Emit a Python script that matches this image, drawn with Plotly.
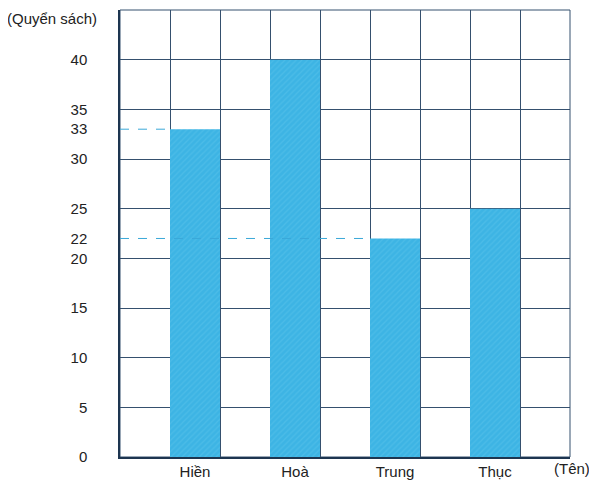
import plotly.graph_objects as go

names = ["Hiền", "Hoà", "Trung", "Thục"]
books = [33, 40, 22, 25]
x_pos = [1.5, 3.5, 5.5, 7.5]
y_ticks = [0, 5, 10, 15, 20, 22, 25, 30, 33, 35, 40]
dashed = [(33, 1), (22, 5)]  # (value, bar left edge)

fig = go.Figure()
fig.add_trace(go.Bar(
    x=x_pos, y=books, width=1,
    marker=dict(color="#3db4e4", line=dict(width=0),
                pattern=dict(shape="/", fgcolor="#5cc3ea", size=4, solidity=0.3)),
))

for val, edge in dashed:
    fig.add_shape(type="line", x0=0, x1=edge, y0=val, y1=val,
                  line=dict(color="#3aa8d8", width=1, dash="dash"))

fig.add_annotation(text="(Quyển sách)", x=0, y=1.0, xref="paper", yref="paper",
                   xanchor="left", yanchor="top", xshift=-115, yshift=2,
                   showarrow=False, font=dict(size=15, color="#222"))
fig.add_annotation(text="(Tên)", x=1, y=0, xref="paper", yref="paper",
                   xanchor="left", xshift=-18, yshift=-22, showarrow=False,
                   font=dict(size=15, color="#222"))

fig.update_layout(
    width=597, height=497,
    margin=dict(l=112, r=35, t=2, b=48),
    plot_bgcolor="white", paper_bgcolor="white",
    showlegend=False,
    font=dict(family="Liberation Sans, Arial", size=15, color="#222"),
    xaxis=dict(range=[0, 9], tickvals=x_pos, ticktext=names, showgrid=False,
               minor=dict(dtick=1, showgrid=True, gridcolor="#35506e", gridwidth=1),
               showline=True, linecolor="#1d3550", linewidth=1.5, zeroline=False,
               ticks="", fixedrange=True),
    yaxis=dict(range=[0, 45], tickvals=y_ticks, showgrid=False,
               minor=dict(dtick=5, showgrid=True, gridcolor="#35506e", gridwidth=1),
               showline=True, linecolor="#1d3550", linewidth=1.5, zeroline=False,
               ticks="", ticklabelstandoff=28, fixedrange=True),
)
fig.add_shape(type="rect", xref="paper", yref="paper", x0=0, x1=1, y0=0, y1=1,
              line=dict(color="#35506e", width=1), layer="below")

fig.write_html("out.html")
